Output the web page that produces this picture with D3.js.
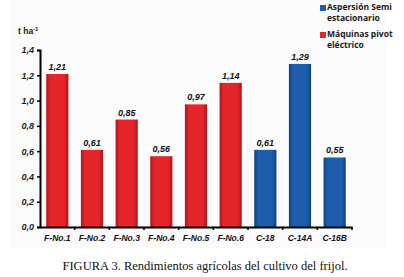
<!DOCTYPE html>
<html>
<head>
<meta charset="utf-8">
<script src="https://cdn.jsdelivr.net/npm/d3@7"></script>
<style>
  body { margin: 0; background: #fff; }
  svg { display: block; }
</style>
</head>
<body>
<svg id="chart" width="404" height="277"></svg>
<script>
// data
const categories = ["F-No.1", "F-No.2", "F-No.3", "F-No.4", "F-No.5", "F-No.6", "C-18", "C-14A", "C-16B"];
const values = [1.21, 0.61, 0.85, 0.56, 0.97, 1.14, 0.61, 1.29, 0.55];
const groups = ["pivot", "pivot", "pivot", "pivot", "pivot", "pivot", "semi", "semi", "semi"];
const yTicks = [0, 0.2, 0.4, 0.6, 0.8, 1.0, 1.2, 1.4];
const legendItems = [
  { key: "semi", lines: ["Aspersión Semi", "estacionario"] },
  { key: "pivot", lines: ["Máquinas pivot", "eléctrico"] }
];

const svg = d3.select("#chart");
const x0 = 40, x1 = 352, yBottom = 227, yTop = 50;

const colors = { pivot: "#e4262b", semi: "#1d5dab" };
const dark = { pivot: "#b0141a", semi: "#143f7a" };

// faint image background
svg.append("rect")
  .attr("x", 10).attr("y", 0).attr("width", 375).attr("height", 248)
  .attr("fill", "#fbfbfb");

const defs = svg.append("defs");
Object.keys(colors).forEach(k => {
  const g = defs.append("linearGradient").attr("id", "grad-" + k)
    .attr("x1", "0%").attr("x2", "100%").attr("y1", "0%").attr("y2", "0%");
  g.append("stop").attr("offset", "0%").attr("stop-color", dark[k]);
  g.append("stop").attr("offset", "18%").attr("stop-color", colors[k]);
  g.append("stop").attr("offset", "80%").attr("stop-color", colors[k]);
  g.append("stop").attr("offset", "100%").attr("stop-color", dark[k]);
});

const xScale = d3.scaleBand()
  .domain(categories)
  .range([x0, x1])
  .paddingInner(0.36)
  .paddingOuter(0.18);

const yScale = d3.scaleLinear()
  .domain([0, 1.4])
  .range([yBottom, yTop]);

const data = categories.map((c, i) => ({ cat: c, val: values[i], grp: groups[i] }));

const boldItalic = sel => sel
  .style("font-family", "Liberation Sans, Arial, sans-serif")
  .style("font-weight", "bold")
  .style("font-style", "italic");

// bars
svg.selectAll("rect.bar")
  .data(data)
  .join("rect")
  .attr("class", "bar")
  .attr("x", d => xScale(d.cat))
  .attr("y", d => yScale(d.val))
  .attr("width", xScale.bandwidth())
  .attr("height", d => yBottom - yScale(d.val))
  .attr("fill", d => `url(#grad-${d.grp})`);

// value labels
svg.selectAll("text.val")
  .data(data)
  .join("text")
  .attr("class", "val")
  .attr("x", d => xScale(d.cat) + xScale.bandwidth() / 2)
  .attr("y", d => yScale(d.val) - 4)
  .attr("text-anchor", "middle")
  .call(boldItalic)
  .style("font-size", "9px")
  .style("fill", "#111")
  .text(d => d3.format(".2f")(d.val).replace(".", ","));

// y axis
const yAxis = d3.axisLeft(yScale)
  .tickValues(yTicks)
  .tickSize(3)
  .tickPadding(3)
  .tickFormat(d => d3.format(".1f")(d).replace(".", ","));
const yg = svg.append("g")
  .attr("transform", `translate(${x0},0)`)
  .call(yAxis);
yg.select(".domain").attr("stroke", "#000").attr("stroke-width", 2);
yg.selectAll(".tick line").attr("stroke", "#000").attr("stroke-width", 1.5);
yg.selectAll(".tick text")
  .call(boldItalic)
  .style("font-size", "9px")
  .style("fill", "#222");

// x axis
const xg = svg.append("g")
  .attr("transform", `translate(0,${yBottom})`)
  .call(d3.axisBottom(xScale).tickSize(0).tickPadding(8));
xg.select(".domain").attr("stroke", "#000").attr("stroke-width", 2);
xg.selectAll(".tick text")
  .call(boldItalic)
  .style("font-size", "8.5px")
  .style("fill", "#111");

// separator ticks between categories
xg.selectAll("line.sep")
  .data(categories)
  .join("line")
  .attr("class", "sep")
  .attr("x1", d => xScale(d) + xScale.bandwidth() + xScale.step() * xScale.paddingInner() / 2)
  .attr("x2", d => xScale(d) + xScale.bandwidth() + xScale.step() * xScale.paddingInner() / 2)
  .attr("y1", 0).attr("y2", 3)
  .attr("stroke", "#000").attr("stroke-width", 1.5);

// unit label
svg.append("text")
  .attr("x", 18).attr("y", 34)
  .style("font-family", "Liberation Sans, Arial, sans-serif")
  .style("font-size", "8.5px")
  .style("font-weight", "bold")
  .style("fill", "#222")
  .text("t ha")
  .append("tspan")
  .attr("dy", -3)
  .style("font-size", "6px")
  .text("-1");

// legend
const lg = svg.append("g").attr("transform", "translate(320,0)");
legendItems.forEach((it, i) => {
  const gy = 8 + i * 27;
  lg.append("rect")
    .attr("x", 0).attr("y", gy - 3)
    .attr("width", 6).attr("height", 6)
    .attr("fill", colors[it.key]);
  it.lines.forEach((ln, j) => {
    lg.append("text")
      .attr("x", 7).attr("y", gy + 1.5 + j * 11)
      .style("font-family", "Open Sans, Liberation Sans, sans-serif")
      .style("font-size", "8.5px")
      .style("font-weight", "bold")
      .style("fill", "#1a1a1a")
      .text(ln);
  });
});

// caption
svg.append("text")
  .attr("x", 205).attr("y", 270)
  .attr("text-anchor", "middle")
  .style("font-family", "Liberation Serif, Times New Roman, serif")
  .style("font-size", "12.5px")
  .style("fill", "#111")
  .text("FIGURA 3. Rendimientos agrícolas del cultivo del frijol.");
</script>
</body>
</html>
